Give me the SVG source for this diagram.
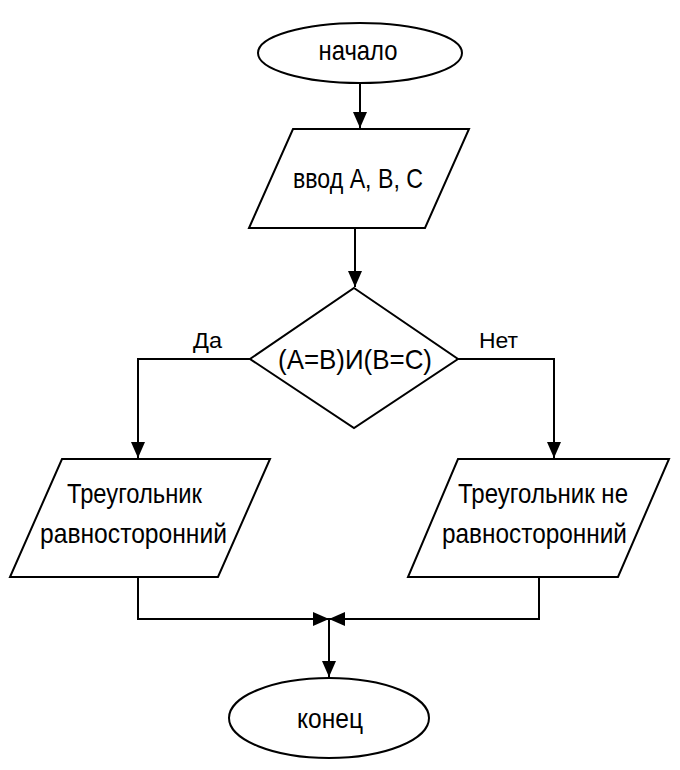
<svg xmlns="http://www.w3.org/2000/svg" width="680" height="770" viewBox="0 0 680 770">
<style>
.shape{fill:#ffffff;stroke:#000;stroke-width:2;stroke-linejoin:miter}
.line{fill:none;stroke:#000;stroke-width:2}
.t{font-family:"Liberation Sans",Arial,sans-serif;font-size:28px;fill:#000;text-anchor:middle}
.lbl{font-family:"Liberation Sans",Arial,sans-serif;font-size:22px;fill:#000}
</style>
<defs>
<marker id="arr" markerUnits="userSpaceOnUse" markerWidth="18" markerHeight="14" refX="16" refY="7" orient="auto">
<path d="M0,0 L16,7 L0,14 Z" fill="#000"/>
</marker>
</defs>
<rect width="680" height="770" fill="#ffffff"/>
<g id="connectors">
<line class="line" x1="360" y1="83" x2="360" y2="128" marker-end="url(#arr)"/>
<line class="line" x1="355" y1="228" x2="355" y2="287" marker-end="url(#arr)"/>
<polyline class="line" points="250,359 138,359 138,458" marker-end="url(#arr)"/>
<polyline class="line" points="458,359 554,359 554,458" marker-end="url(#arr)"/>
<polyline class="line" points="138,577 138,619 329,619" marker-end="url(#arr)"/>
<polyline class="line" points="539,577 539,619 329,619" marker-end="url(#arr)"/>
<line class="line" x1="329" y1="619" x2="329" y2="677" marker-end="url(#arr)"/>
<text class="lbl" x="193" y="348" textLength="29" lengthAdjust="spacingAndGlyphs">Да</text>
<text class="lbl" x="479" y="348" textLength="39" lengthAdjust="spacingAndGlyphs">Нет</text>
</g>
<g id="start">
<ellipse class="shape" cx="360" cy="53" rx="102" ry="30"/>
<text class="t" x="358" y="60" textLength="79" lengthAdjust="spacingAndGlyphs">начало</text>
</g>
<g id="input">
<polygon class="shape" points="293,129 469,129 425,228 249,228"/>
<text class="t" x="358" y="188" textLength="130" lengthAdjust="spacingAndGlyphs">ввод А, В, С</text>
</g>
<g id="decision">
<polygon class="shape" points="354,288 458,359 354,428 250,359"/>
<text class="t" x="355" y="369" textLength="154" lengthAdjust="spacingAndGlyphs">(A=B)И(B=C)</text>
</g>
<g id="yes">
<polygon class="shape" points="62,459 270,459 218,577 10,577"/>
<text class="t" x="134.5" y="503" textLength="135" lengthAdjust="spacingAndGlyphs">Треугольник</text>
<text class="t" x="133.5" y="543" textLength="187" lengthAdjust="spacingAndGlyphs">равносторонний</text>
</g>
<g id="no">
<polygon class="shape" points="458,459 669,459 618,577 408,577"/>
<text class="t" x="543" y="503" textLength="170" lengthAdjust="spacingAndGlyphs">Треугольник не</text>
<text class="t" x="534.5" y="543" textLength="185" lengthAdjust="spacingAndGlyphs">равносторонний</text>
</g>
<g id="end">
<ellipse class="shape" cx="329" cy="718" rx="100" ry="40"/>
<text class="t" x="330" y="728" textLength="66" lengthAdjust="spacingAndGlyphs">конец</text>
</g>
</svg>
